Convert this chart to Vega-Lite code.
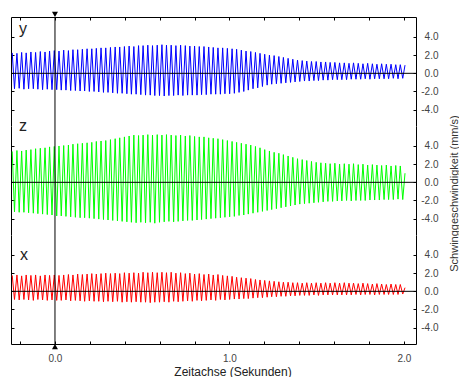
{
  "$schema": "https://vega.github.io/schema/vega-lite/v6.json",
  "padding": {"left": 10, "top": 11, "right": 0, "bottom": 0},
  "background": "white",
  "spacing": 0,
  "bounds": "flush",
  "config": {
    "view": {"stroke": null},
    "font": "Liberation Sans",
    "axis": {
      "grid": false,
      "domainColor": "black",
      "tickColor": "black",
      "domainWidth": 1,
      "tickWidth": 1,
      "labelFont": "Liberation Sans",
      "labelFontSize": 10,
      "labelColor": "#444",
      "titleFont": "Liberation Sans",
      "titleFontWeight": "normal"
    }
  },
  "datasets": {
    "sig": [
      {"t":-0.245,"vy":2.25,"vz":3.4,"vx":1.75},
      {"t":-0.232,"vy":-1.7,"vz":-3.25,"vx":-0.9},
      {"t":-0.218,"vy":2.2,"vz":3.5,"vx":1.8},
      {"t":-0.205,"vy":-1.65,"vz":-3.3,"vx":-0.95},
      {"t":-0.191,"vy":2.3,"vz":3.45,"vx":1.7},
      {"t":-0.178,"vy":-1.75,"vz":-3.3,"vx":-0.9},
      {"t":-0.165,"vy":2.25,"vz":3.55,"vx":1.8},
      {"t":-0.151,"vy":-1.7,"vz":-3.35,"vx":-0.95},
      {"t":-0.138,"vy":2.35,"vz":3.6,"vx":1.75},
      {"t":-0.124,"vy":-1.7,"vz":-3.4,"vx":-1.0},
      {"t":-0.111,"vy":2.3,"vz":3.7,"vx":1.8},
      {"t":-0.098,"vy":-1.75,"vz":-3.45,"vx":-0.9},
      {"t":-0.084,"vy":2.4,"vz":3.75,"vx":1.7},
      {"t":-0.071,"vy":-1.8,"vz":-3.5,"vx":-0.95},
      {"t":-0.057,"vy":2.35,"vz":3.8,"vx":1.8},
      {"t":-0.044,"vy":-1.75,"vz":-3.55,"vx":-1.0},
      {"t":-0.031,"vy":2.45,"vz":3.9,"vx":1.75},
      {"t":-0.017,"vy":-1.8,"vz":-3.6,"vx":-0.95},
      {"t":-0.004,"vy":2.5,"vz":3.95,"vx":1.8},
      {"t":0.010,"vy":-1.8,"vz":-3.7,"vx":-1.0},
      {"t":0.023,"vy":2.45,"vz":4.0,"vx":1.75},
      {"t":0.036,"vy":-1.85,"vz":-3.7,"vx":-1.0},
      {"t":0.050,"vy":2.55,"vz":4.05,"vx":1.8},
      {"t":0.063,"vy":-1.85,"vz":-3.75,"vx":-0.95},
      {"t":0.077,"vy":2.5,"vz":4.1,"vx":1.85},
      {"t":0.090,"vy":-1.9,"vz":-3.8,"vx":-1.05},
      {"t":0.103,"vy":2.6,"vz":4.2,"vx":1.8},
      {"t":0.117,"vy":-1.9,"vz":-3.85,"vx":-1.0},
      {"t":0.130,"vy":2.6,"vz":4.25,"vx":1.9},
      {"t":0.144,"vy":-1.95,"vz":-3.9,"vx":-1.05},
      {"t":0.157,"vy":2.65,"vz":4.3,"vx":1.85},
      {"t":0.170,"vy":-1.95,"vz":-3.9,"vx":-1.1},
      {"t":0.184,"vy":2.7,"vz":4.35,"vx":1.9},
      {"t":0.197,"vy":-2.0,"vz":-3.95,"vx":-1.05},
      {"t":0.211,"vy":2.7,"vz":4.4,"vx":1.95},
      {"t":0.224,"vy":-2.0,"vz":-4.0,"vx":-1.1},
      {"t":0.237,"vy":2.75,"vz":4.5,"vx":1.9},
      {"t":0.251,"vy":-2.05,"vz":-4.05,"vx":-1.1},
      {"t":0.264,"vy":2.8,"vz":4.55,"vx":1.95},
      {"t":0.278,"vy":-2.1,"vz":-4.1,"vx":-1.15},
      {"t":0.291,"vy":2.8,"vz":4.6,"vx":2.0},
      {"t":0.304,"vy":-2.1,"vz":-4.15,"vx":-1.1},
      {"t":0.318,"vy":2.85,"vz":4.7,"vx":1.95},
      {"t":0.331,"vy":-2.15,"vz":-4.2,"vx":-1.15},
      {"t":0.345,"vy":2.9,"vz":4.8,"vx":2.0},
      {"t":0.358,"vy":-2.2,"vz":-4.25,"vx":-1.1},
      {"t":0.371,"vy":2.9,"vz":4.9,"vx":1.95},
      {"t":0.385,"vy":-2.2,"vz":-4.3,"vx":-1.2},
      {"t":0.398,"vy":2.95,"vz":5.0,"vx":2.05},
      {"t":0.412,"vy":-2.25,"vz":-4.35,"vx":-1.15},
      {"t":0.425,"vy":3.0,"vz":5.1,"vx":2.0},
      {"t":0.438,"vy":-2.3,"vz":-4.4,"vx":-1.2},
      {"t":0.452,"vy":2.95,"vz":5.2,"vx":2.05},
      {"t":0.465,"vy":-2.3,"vz":-4.45,"vx":-1.15},
      {"t":0.479,"vy":3.05,"vz":5.15,"vx":2.0},
      {"t":0.492,"vy":-2.35,"vz":-4.4,"vx":-1.2},
      {"t":0.505,"vy":3.05,"vz":5.2,"vx":2.1},
      {"t":0.519,"vy":-2.4,"vz":-4.45,"vx":-1.2},
      {"t":0.532,"vy":3.1,"vz":5.25,"vx":2.05},
      {"t":0.546,"vy":-2.4,"vz":-4.4,"vx":-1.25},
      {"t":0.559,"vy":3.05,"vz":5.2,"vx":2.1},
      {"t":0.572,"vy":-2.45,"vz":-4.5,"vx":-1.2},
      {"t":0.586,"vy":3.1,"vz":5.25,"vx":2.05},
      {"t":0.599,"vy":-2.45,"vz":-4.4,"vx":-1.2},
      {"t":0.613,"vy":3.15,"vz":5.2,"vx":2.1},
      {"t":0.626,"vy":-2.5,"vz":-4.35,"vx":-1.15},
      {"t":0.639,"vy":3.1,"vz":5.25,"vx":2.05},
      {"t":0.653,"vy":-2.45,"vz":-4.3,"vx":-1.2},
      {"t":0.666,"vy":3.1,"vz":5.2,"vx":2.1},
      {"t":0.680,"vy":-2.45,"vz":-4.35,"vx":-1.1},
      {"t":0.693,"vy":3.05,"vz":5.15,"vx":2.0},
      {"t":0.706,"vy":-2.4,"vz":-4.3,"vx":-1.15},
      {"t":0.720,"vy":3.1,"vz":5.2,"vx":2.05},
      {"t":0.733,"vy":-2.45,"vz":-4.25,"vx":-1.1},
      {"t":0.747,"vy":3.05,"vz":5.1,"vx":1.95},
      {"t":0.760,"vy":-2.4,"vz":-4.2,"vx":-1.05},
      {"t":0.773,"vy":3.0,"vz":5.15,"vx":2.0},
      {"t":0.787,"vy":-2.4,"vz":-4.2,"vx":-1.1},
      {"t":0.800,"vy":3.0,"vz":5.05,"vx":1.9},
      {"t":0.814,"vy":-2.4,"vz":-4.15,"vx":-1.0},
      {"t":0.827,"vy":2.95,"vz":5.0,"vx":1.95},
      {"t":0.840,"vy":-2.35,"vz":-4.1,"vx":-1.05},
      {"t":0.854,"vy":2.95,"vz":5.0,"vx":1.85},
      {"t":0.867,"vy":-2.35,"vz":-4.05,"vx":-1.0},
      {"t":0.881,"vy":2.9,"vz":4.9,"vx":1.9},
      {"t":0.894,"vy":-2.3,"vz":-4.0,"vx":-0.95},
      {"t":0.907,"vy":2.85,"vz":4.85,"vx":1.8},
      {"t":0.921,"vy":-2.3,"vz":-3.95,"vx":-1.0},
      {"t":0.934,"vy":2.8,"vz":4.8,"vx":1.85},
      {"t":0.948,"vy":-2.3,"vz":-3.9,"vx":-0.9},
      {"t":0.961,"vy":2.8,"vz":4.7,"vx":1.75},
      {"t":0.974,"vy":-2.25,"vz":-3.85,"vx":-0.95},
      {"t":0.988,"vy":2.75,"vz":4.6,"vx":1.7},
      {"t":1.001,"vy":-2.25,"vz":-3.8,"vx":-0.9},
      {"t":1.015,"vy":2.7,"vz":4.5,"vx":1.65},
      {"t":1.028,"vy":-2.2,"vz":-3.75,"vx":-0.85},
      {"t":1.041,"vy":2.65,"vz":4.4,"vx":1.55},
      {"t":1.055,"vy":-2.1,"vz":-3.65,"vx":-0.85},
      {"t":1.068,"vy":2.55,"vz":4.3,"vx":1.5},
      {"t":1.082,"vy":-2.0,"vz":-3.6,"vx":-0.8},
      {"t":1.095,"vy":2.45,"vz":4.2,"vx":1.45},
      {"t":1.108,"vy":-1.85,"vz":-3.5,"vx":-0.8},
      {"t":1.122,"vy":2.4,"vz":4.1,"vx":1.4},
      {"t":1.135,"vy":-1.7,"vz":-3.4,"vx":-0.75},
      {"t":1.149,"vy":2.3,"vz":3.95,"vx":1.3},
      {"t":1.162,"vy":-1.6,"vz":-3.3,"vx":-0.7},
      {"t":1.175,"vy":2.2,"vz":3.8,"vx":1.25},
      {"t":1.189,"vy":-1.45,"vz":-3.2,"vx":-0.7},
      {"t":1.202,"vy":2.1,"vz":3.6,"vx":1.2},
      {"t":1.216,"vy":-1.3,"vz":-3.1,"vx":-0.65},
      {"t":1.229,"vy":2.0,"vz":3.45,"vx":1.15},
      {"t":1.242,"vy":-1.2,"vz":-3.0,"vx":-0.6},
      {"t":1.256,"vy":1.95,"vz":3.3,"vx":1.1},
      {"t":1.269,"vy":-1.15,"vz":-2.9,"vx":-0.6},
      {"t":1.283,"vy":1.85,"vz":3.2,"vx":1.05},
      {"t":1.296,"vy":-1.1,"vz":-2.8,"vx":-0.55},
      {"t":1.309,"vy":1.75,"vz":3.05,"vx":1.0},
      {"t":1.323,"vy":-1.05,"vz":-2.7,"vx":-0.55},
      {"t":1.336,"vy":1.65,"vz":2.9,"vx":1.0},
      {"t":1.350,"vy":-1.0,"vz":-2.6,"vx":-0.5},
      {"t":1.363,"vy":1.55,"vz":2.75,"vx":0.95},
      {"t":1.376,"vy":-0.95,"vz":-2.5,"vx":-0.5},
      {"t":1.390,"vy":1.45,"vz":2.6,"vx":0.95},
      {"t":1.403,"vy":-0.9,"vz":-2.4,"vx":-0.45},
      {"t":1.417,"vy":1.4,"vz":2.5,"vx":0.9},
      {"t":1.430,"vy":-0.85,"vz":-2.35,"vx":-0.45},
      {"t":1.443,"vy":1.35,"vz":2.4,"vx":0.95},
      {"t":1.457,"vy":-0.85,"vz":-2.3,"vx":-0.45},
      {"t":1.470,"vy":1.3,"vz":2.3,"vx":0.9},
      {"t":1.484,"vy":-0.8,"vz":-2.25,"vx":-0.4},
      {"t":1.497,"vy":1.3,"vz":2.2,"vx":0.95},
      {"t":1.510,"vy":-0.8,"vz":-2.2,"vx":-0.45},
      {"t":1.524,"vy":1.25,"vz":2.15,"vx":0.9},
      {"t":1.537,"vy":-0.75,"vz":-2.15,"vx":-0.4},
      {"t":1.551,"vy":1.25,"vz":2.1,"vx":0.95},
      {"t":1.564,"vy":-0.75,"vz":-2.1,"vx":-0.4},
      {"t":1.577,"vy":1.2,"vz":2.05,"vx":0.9},
      {"t":1.591,"vy":-0.7,"vz":-2.1,"vx":-0.4},
      {"t":1.604,"vy":1.2,"vz":2.1,"vx":0.95},
      {"t":1.618,"vy":-0.7,"vz":-2.05,"vx":-0.4},
      {"t":1.631,"vy":1.15,"vz":2.0,"vx":0.9},
      {"t":1.644,"vy":-0.7,"vz":-2.05,"vx":-0.4},
      {"t":1.658,"vy":1.15,"vz":2.05,"vx":0.95},
      {"t":1.671,"vy":-0.7,"vz":-2.0,"vx":-0.4},
      {"t":1.685,"vy":1.1,"vz":2.0,"vx":0.9},
      {"t":1.698,"vy":-0.65,"vz":-2.05,"vx":-0.4},
      {"t":1.711,"vy":1.15,"vz":2.05,"vx":0.9},
      {"t":1.725,"vy":-0.65,"vz":-2.0,"vx":-0.35},
      {"t":1.738,"vy":1.1,"vz":1.95,"vx":0.85},
      {"t":1.752,"vy":-0.65,"vz":-2.0,"vx":-0.4},
      {"t":1.765,"vy":1.05,"vz":2.0,"vx":0.9},
      {"t":1.778,"vy":-0.6,"vz":-2.0,"vx":-0.35},
      {"t":1.792,"vy":1.1,"vz":1.9,"vx":0.85},
      {"t":1.805,"vy":-0.65,"vz":-1.95,"vx":-0.35},
      {"t":1.819,"vy":1.05,"vz":1.95,"vx":0.8},
      {"t":1.832,"vy":-0.6,"vz":-1.95,"vx":-0.4},
      {"t":1.845,"vy":1.0,"vz":1.9,"vx":0.85},
      {"t":1.859,"vy":-0.6,"vz":-1.95,"vx":-0.35},
      {"t":1.872,"vy":1.05,"vz":1.85,"vx":0.8},
      {"t":1.886,"vy":-0.6,"vz":-1.9,"vx":-0.35},
      {"t":1.899,"vy":1.0,"vz":1.9,"vx":0.75},
      {"t":1.912,"vy":-0.6,"vz":-1.9,"vx":-0.35},
      {"t":1.926,"vy":1.0,"vz":1.8,"vx":0.8},
      {"t":1.939,"vy":-0.55,"vz":-1.9,"vx":-0.35},
      {"t":1.953,"vy":0.95,"vz":1.85,"vx":0.75},
      {"t":1.966,"vy":-0.6,"vz":-1.85,"vx":-0.35},
      {"t":1.979,"vy":0.95,"vz":1.8,"vx":0.75},
      {"t":1.993,"vy":-0.55,"vz":-1.9,"vx":-0.3},
      {"t":2.006,"vy":0.9,"vz":1.0,"vx":0.4}
    ]
  },
  "vconcat": [
    {
      "width": 405,
      "height": 109,
      "resolve": {"axis": {"x": "independent", "y": "independent"}},
      "layer": [
        {
          "data": {"name": "sig"},
          "mark": {"type": "line", "color": "#0000ff", "strokeWidth": 1},
          "encoding": {
            "x": {"field": "t", "type": "quantitative", "scale": {"domain": [-0.252, 2.069], "nice": false, "zero": false},
              "axis": {"orient": "top", "values": [-0.2,0,0.2,0.4,0.6,0.8,1,1.2,1.4,1.6,1.8,2], "tickSize": -3, "labels": false, "title": null}},
            "y": {"field": "vy", "type": "quantitative", "scale": {"domain": [-5.8, 6.2], "nice": false, "zero": false},
              "axis": {"orient": "left", "values": [-4,-2,0,2,4], "tickSize": -3, "labels": false, "title": null}}
          }
        },
        {
          "data": {"values": [{}]},
          "mark": {"type": "rule", "color": "black", "strokeWidth": 1},
          "encoding": {"y": {"datum": 0, "type": "quantitative", "scale": {"domain": [-5.8, 6.2], "nice": false, "zero": false}, "axis": null}}
        },
        {
          "data": {"values": [{}]},
          "mark": {"type": "rule", "color": "black", "strokeWidth": 1},
          "encoding": {"x": {"datum": 0, "type": "quantitative", "scale": {"domain": [-0.252, 2.069], "nice": false, "zero": false}, "axis": null}}
        },
        {
          "data": {"values": [{}]},
          "mark": {"type": "point", "shape": "triangle-down", "size": 36, "filled": true, "color": "black", "opacity": 1, "yOffset": -2.6, "clip": false},
          "encoding": {
            "x": {"datum": 0, "type": "quantitative", "scale": {"domain": [-0.252, 2.069], "nice": false, "zero": false}, "axis": null},
            "y": {"datum": 6.2, "type": "quantitative", "scale": {"domain": [-5.8, 6.2], "nice": false, "zero": false}, "axis": null}
          }
        },
        {
          "data": {"values": [{"name": "y", "t": -0.206, "v": 4.3}]},
          "mark": {"type": "text", "align": "left", "baseline": "alphabetic", "fontSize": 16, "font": "Liberation Sans", "color": "#222"},
          "encoding": {
            "text": {"field": "name"},
            "x": {"field": "t", "type": "quantitative", "scale": {"domain": [-0.252, 2.069], "nice": false, "zero": false}, "axis": null},
            "y": {"field": "v", "type": "quantitative", "scale": {"domain": [-5.8, 6.2], "nice": false, "zero": false},
              "axis": {"orient": "right", "values": [-4,-2,0,2,4], "tickSize": -3, "labelAlign": "right", "labelPadding": 25, "labelExpr": "replace(format(datum.value, '.1f'), '\u2212', '-')", "title": null}}
          }
        }
      ]
    },
    {
      "width": 405,
      "height": 109,
      "resolve": {"axis": {"x": "independent", "y": "independent"}},
      "layer": [
        {
          "data": {"name": "sig"},
          "mark": {"type": "line", "color": "#00ff00", "strokeWidth": 1},
          "encoding": {
            "x": {"field": "t", "type": "quantitative", "scale": {"domain": [-0.252, 2.069], "nice": false, "zero": false}, "axis": null},
            "y": {"field": "vz", "type": "quantitative", "scale": {"domain": [-5.8, 6.2], "nice": false, "zero": false},
              "axis": {"orient": "left", "values": [-4,-2,0,2,4], "tickSize": -3, "labels": false, "title": null}}
          }
        },
        {
          "data": {"values": [{}]},
          "mark": {"type": "rule", "color": "black", "strokeWidth": 1},
          "encoding": {"y": {"datum": 0, "type": "quantitative", "scale": {"domain": [-5.8, 6.2], "nice": false, "zero": false}, "axis": null}}
        },
        {
          "data": {"values": [{}]},
          "mark": {"type": "rule", "color": "black", "strokeWidth": 1},
          "encoding": {"x": {"datum": 0, "type": "quantitative", "scale": {"domain": [-0.252, 2.069], "nice": false, "zero": false}, "axis": null}}
        },
        {
          "data": {"values": [{"name": "z", "t": -0.206, "v": 5.65}]},
          "mark": {"type": "text", "align": "left", "baseline": "alphabetic", "fontSize": 16, "font": "Liberation Sans", "color": "#222"},
          "encoding": {
            "text": {"field": "name"},
            "x": {"field": "t", "type": "quantitative", "scale": {"domain": [-0.252, 2.069], "nice": false, "zero": false}, "axis": null},
            "y": {"field": "v", "type": "quantitative", "scale": {"domain": [-5.8, 6.2], "nice": false, "zero": false},
              "axis": {"orient": "right", "values": [-4,-2,0,2,4], "tickSize": -3, "labelAlign": "right", "labelPadding": 25, "labelExpr": "replace(format(datum.value, '.1f'), '\u2212', '-')",
                "title": "Schwinggeschwindigkeit (mm/s)", "titleAngle": 270, "titleX": 38, "titleY": 67, "titleAlign": "center", "titleBaseline": "middle", "titleFontSize": 11, "titleColor": "#333"}}
          }
        }
      ]
    },
    {
      "width": 405,
      "height": 109,
      "resolve": {"axis": {"x": "independent", "y": "independent"}},
      "layer": [
        {
          "data": {"name": "sig"},
          "mark": {"type": "line", "color": "#ff0000", "strokeWidth": 1},
          "encoding": {
            "x": {"field": "t", "type": "quantitative", "scale": {"domain": [-0.252, 2.069], "nice": false, "zero": false},
              "axis": {"orient": "bottom", "values": [-0.2,0,0.2,0.4,0.6,0.8,1,1.2,1.4,1.6,1.8,2], "tickSize": -3, "labelPadding": 12,
                "labelExpr": "(datum.value == 0 || datum.value == 1 || datum.value == 2) ? format(datum.value, '.1f') : ''",
                "title": "Zeitachse (Sekunden)", "titleX": 221.5, "titleY": 31, "titleAlign": "center", "titleBaseline": "alphabetic", "titleFontSize": 12, "titleColor": "#222"}},
            "y": {"field": "vx", "type": "quantitative", "scale": {"domain": [-5.8, 6.2], "nice": false, "zero": false},
              "axis": {"orient": "left", "values": [-4,-2,0,2,4], "tickSize": -3, "labels": false, "title": null}}
          }
        },
        {
          "data": {"values": [{}]},
          "mark": {"type": "rule", "color": "black", "strokeWidth": 1},
          "encoding": {"y": {"datum": 0, "type": "quantitative", "scale": {"domain": [-5.8, 6.2], "nice": false, "zero": false}, "axis": null}}
        },
        {
          "data": {"values": [{}]},
          "mark": {"type": "rule", "color": "black", "strokeWidth": 1},
          "encoding": {"x": {"datum": 0, "type": "quantitative", "scale": {"domain": [-0.252, 2.069], "nice": false, "zero": false}, "axis": null}}
        },
        {
          "data": {"values": [{}]},
          "mark": {"type": "point", "shape": "triangle-up", "size": 36, "filled": true, "color": "black", "opacity": 1, "yOffset": 2.6, "clip": false},
          "encoding": {
            "x": {"datum": 0, "type": "quantitative", "scale": {"domain": [-0.252, 2.069], "nice": false, "zero": false}, "axis": null},
            "y": {"datum": -5.8, "type": "quantitative", "scale": {"domain": [-5.8, 6.2], "nice": false, "zero": false}, "axis": null}
          }
        },
        {
          "data": {"values": [{"name": "x", "t": -0.2, "v": 3.5}]},
          "mark": {"type": "text", "align": "left", "baseline": "alphabetic", "fontSize": 16, "font": "Liberation Sans", "color": "#222"},
          "encoding": {
            "text": {"field": "name"},
            "x": {"field": "t", "type": "quantitative", "scale": {"domain": [-0.252, 2.069], "nice": false, "zero": false}, "axis": null},
            "y": {"field": "v", "type": "quantitative", "scale": {"domain": [-5.8, 6.2], "nice": false, "zero": false},
              "axis": {"orient": "right", "values": [-4,-2,0,2,4], "tickSize": -3, "labelAlign": "right", "labelPadding": 25, "labelExpr": "replace(format(datum.value, '.1f'), '\u2212', '-')", "title": null}}
          }
        }
      ]
    }
  ]
}
